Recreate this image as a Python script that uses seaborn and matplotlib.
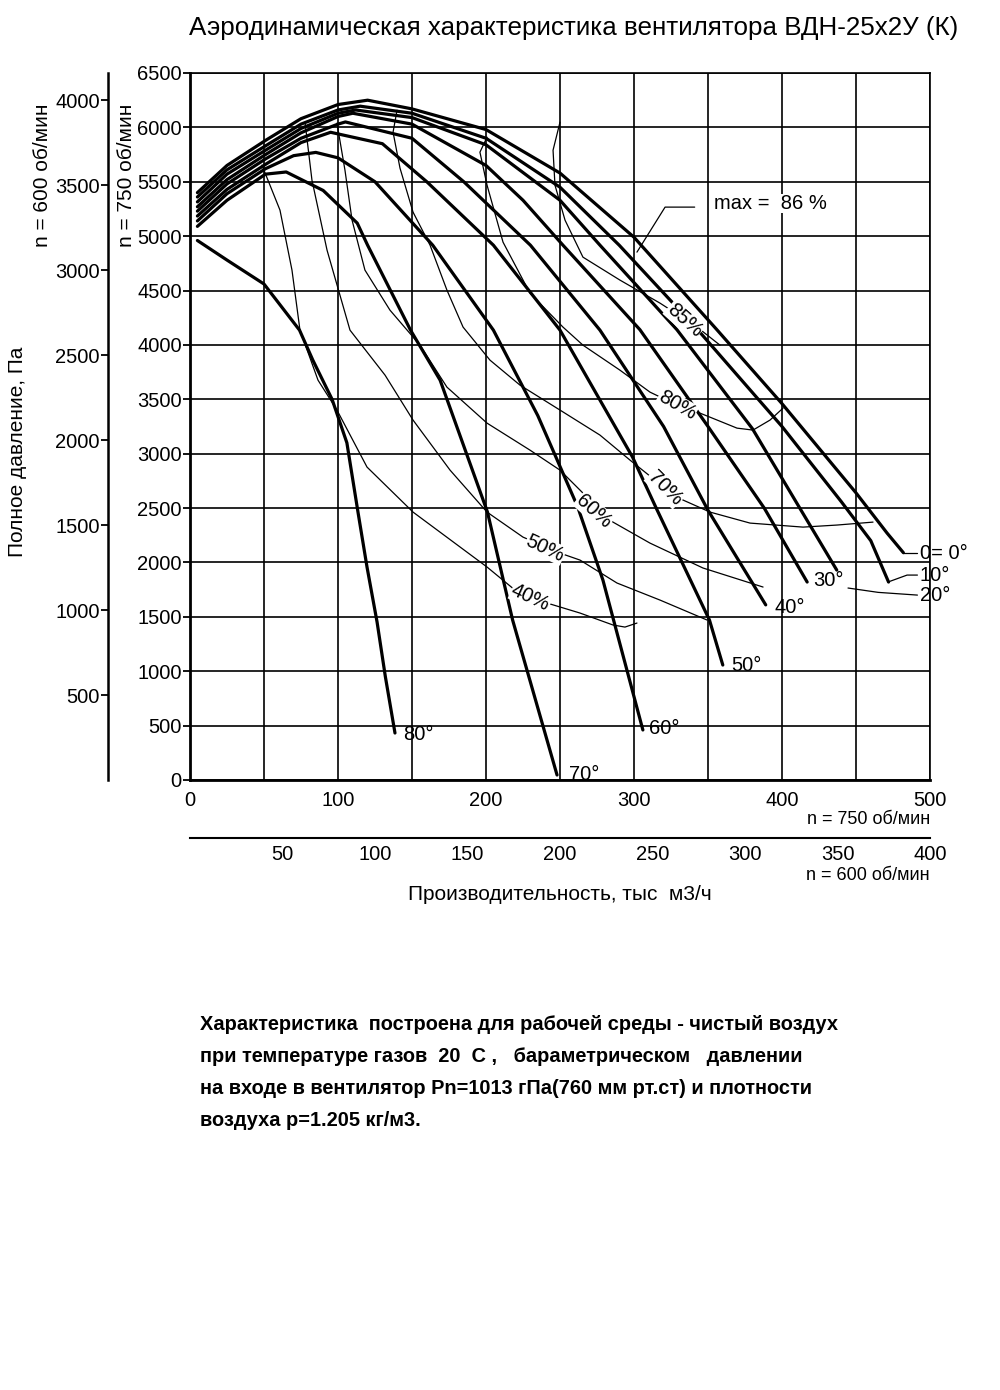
import numpy as np
import pandas as pd
import matplotlib
matplotlib.use('Agg')
import matplotlib.pyplot as plt
import seaborn as sns

# blade angle curves, flow (thous. m3/h) and total pressure (Pa) at n = 750 rpm
q_0 = [5, 25, 51, 75, 100, 120, 150, 200, 250, 300, 356, 400, 450, 471, 482]
p_0 = [5400, 5650, 5880, 6080, 6210, 6250, 6170, 5980, 5580, 4990, 4140, 3460, 2640, 2270, 2090]
q_10 = [5, 25, 51, 75, 100, 115, 150, 200, 250, 290, 343, 400, 440, 460, 472]
p_10 = [5360, 5610, 5830, 6030, 6160, 6195, 6130, 5900, 5450, 4917, 4140, 3250, 2560, 2200, 1820]
q_20 = [5, 25, 51, 75, 100, 112, 150, 200, 250, 277, 329, 380, 412, 437]
p_20 = [5315, 5570, 5790, 5990, 6130, 6160, 6090, 5840, 5330, 4917, 4140, 3230, 2500, 1930]
q_30 = [5, 25, 51, 75, 100, 110, 150, 200, 225, 252, 304, 350, 388, 417]
p_30 = [5270, 5520, 5750, 5950, 6100, 6130, 6030, 5650, 5330, 4917, 4140, 3250, 2500, 1820]
q_40 = [5, 25, 51, 75, 100, 105, 150, 185, 230, 277, 320, 350, 389]
p_40 = [5230, 5480, 5710, 5900, 6030, 6050, 5900, 5500, 4917, 4136, 3250, 2480, 1610]
q_50 = [5, 25, 51, 75, 95, 130, 160, 205, 250, 299, 315, 351, 360]
p_50 = [5185, 5430, 5660, 5860, 5955, 5850, 5500, 4917, 4136, 2969, 2500, 1470, 1057]
q_60 = [5, 25, 51, 70, 85, 100, 125, 164, 205, 235, 262, 279, 306]
p_60 = [5140, 5390, 5620, 5740, 5770, 5720, 5500, 4917, 4136, 3350, 2509, 1838, 460]
q_70 = [5, 25, 51, 65, 90, 113, 120, 149, 169, 201, 218, 248]
p_70 = [5090, 5330, 5570, 5590, 5420, 5120, 4917, 4136, 3676, 2463, 1470, 46]
q_80 = [5, 25, 50, 74, 83, 96, 106, 113.5, 119.6, 126.4, 132, 138.5]
p_80 = [4960, 4780, 4560, 4136, 3860, 3500, 3100, 2463, 1958, 1452, 950, 432]
angles = ['0', '10', '20', '30', '40', '50', '60', '70', '80']

# efficiency contours
q_e40 = [48.6, 60.8, 68.9, 74.3, 86.5, 99.3, 119.6, 150.7, 200.7, 219.6, 241.2, 263.5, 285.8, 293.9, 302]
p_e40 = [5653, 5239, 4688, 4136, 3676, 3401, 2877, 2463, 1958, 1746, 1627, 1535, 1425, 1406, 1443]
q_e50 = [77.7, 82.4, 92.6, 108.1, 131.8, 150.7, 175.7, 200.7, 225, 250, 263.5, 288.5, 317.6, 349.3]
p_e50 = [6048, 5515, 4871, 4136, 3722, 3309, 2849, 2463, 2233, 2086, 2022, 1811, 1654, 1471]
q_e60 = [99.3, 104.7, 109.5, 118.2, 135.1, 155.4, 173.6, 200.7, 229.7, 250, 273.6, 285.8, 310.8, 346.6, 387.2]
p_e60 = [6039, 5607, 5147, 4688, 4320, 3998, 3612, 3281, 3033, 2849, 2528, 2371, 2178, 1949, 1774]
q_e70 = [139.9, 137.2, 141.9, 150.7, 162.2, 173.6, 184.5, 202.7, 223, 250, 277, 297.3, 314.2, 333.1,
         351.4, 378.4, 414.2, 437.2, 461.5]
p_e70 = [6158, 5956, 5625, 5221, 4917, 4504, 4164, 3860, 3630, 3401, 3171, 2941, 2757, 2574,
         2463, 2362, 2325, 2344, 2371]
q_e80 = [200.7, 195.9, 200.7, 211.5, 229.7, 252, 265.5, 290.5, 310.8, 329, 344.6, 369.6, 380.4, 391.9, 400.7]
p_e80 = [5910, 5772, 5469, 4945, 4476, 4164, 3998, 3768, 3566, 3447, 3373, 3235, 3217, 3309, 3419]
q_e85 = [250, 245.3, 246.6, 253.4, 265.5, 290.5, 317.6, 342.6, 358.1]
p_e85 = [6048, 5790, 5469, 5147, 4807, 4596, 4384, 4164, 3998]
efficiencies = ['40', '50', '60', '70', '80', '85']

# scales
x_ticks_750 = [0, 100, 200, 300, 400, 500]
x_ticks_600 = [50, 100, 150, 200, 250, 300, 350, 400]
y_ticks_750 = [0, 500, 1000, 1500, 2000, 2500, 3000, 3500, 4000, 4500, 5000, 5500, 6000, 6500]
y_ticks_600 = [500, 1000, 1500, 2000, 2500, 3000, 3500, 4000]

curves = pd.concat([
    pd.DataFrame({'angle': a, 'Q': q, 'P': p})
    for a, q, p in zip(angles,
                       [q_0, q_10, q_20, q_30, q_40, q_50, q_60, q_70, q_80],
                       [p_0, p_10, p_20, p_30, p_40, p_50, p_60, p_70, p_80])
], ignore_index=True)
eff = pd.concat([
    pd.DataFrame({'eff': e, 'Q': q, 'P': p})
    for e, q, p in zip(efficiencies,
                       [q_e40, q_e50, q_e60, q_e70, q_e80, q_e85],
                       [p_e40, p_e50, p_e60, p_e70, p_e80, p_e85])
], ignore_index=True)

sns.set_theme(style='white')
plt.rcParams['font.family'] = ['Liberation Sans', 'DejaVu Sans']
plt.rcParams['text.color'] = 'black'

H = 1390
fs = 14.5
fig = plt.figure(figsize=(10, 13.9), dpi=100)
ax = fig.add_axes([0.19, 1 - 780 / H, 0.74, (780 - 73) / H])

# grid
ax.set_xlim(0, 500)
ax.set_ylim(0, 6500)
ax.set_xticks(x_ticks_750)
ax.set_xticks(np.arange(0, 501, 50), minor=True)
ax.set_yticks(y_ticks_750)
ax.grid(True, which='both', color='black', lw=1.2)
ax.set_axisbelow(True)
ax.tick_params(axis='x', which='both', length=0, labelsize=fs, pad=8, colors='black')
ax.tick_params(axis='y', direction='out', length=5, width=1.3, labelsize=fs, pad=1,
               colors='black', left=True)
for s in ['top', 'right']:
    ax.spines[s].set_linewidth(1.2)
for s in ['left', 'bottom']:
    ax.spines[s].set_linewidth(2.0)
for s in ax.spines.values():
    s.set_color('black')

sns.lineplot(data=eff, x='Q', y='P', units='eff', estimator=None, sort=False,
             color='black', lw=0.9, ax=ax, legend=False)
sns.lineplot(data=curves, x='Q', y='P', units='angle', estimator=None, sort=False,
             color='black', lw=2.3, ax=ax, legend=False)
ax.set_xlabel('')
ax.set_ylabel('')

# angle labels and leaders
ax.plot([482, 491.5], [2090, 2090], color='black', lw=0.9, clip_on=False)
ax.plot([471.6, 484.5, 491.5], [1820, 1884, 1884], color='black', lw=0.9, clip_on=False)
ax.plot([444.6, 465, 491.5], [1765, 1725, 1700], color='black', lw=0.9, clip_on=False)
ax.text(493, 2085, '0= 0°', fontsize=fs, va='center', ha='left', clip_on=False)
ax.text(493, 1880, '10°', fontsize=fs, va='center', ha='left', clip_on=False)
ax.text(493, 1700, '20°', fontsize=fs, va='center', ha='left', clip_on=False)
ax.text(421, 1830, '30°', fontsize=fs, va='center', ha='left')
ax.text(395, 1590, '40°', fontsize=fs, va='center', ha='left')
ax.text(366, 1057, '50°', fontsize=fs, va='center', ha='left')
ax.text(310, 478, '60°', fontsize=fs, va='center', ha='left')
ax.text(256, 46, '70°', fontsize=fs, va='center', ha='left')
ax.text(144, 414, '80°', fontsize=fs, va='center', ha='left')

# efficiency labels
box = dict(facecolor='white', edgecolor='none', pad=0.3)
ax.text(334, 4228, '85%', fontsize=fs, rotation=-42, ha='center', va='center', bbox=box)
ax.text(329, 3447, '80%', fontsize=fs, rotation=-30, ha='center', va='center', bbox=box)
ax.text(321, 2684, '70%', fontsize=fs, rotation=-45, ha='center', va='center', bbox=box)
ax.text(273, 2472, '60%', fontsize=fs, rotation=-42, ha='center', va='center', bbox=box)
ax.text(240, 2132, '50%', fontsize=fs, rotation=-25, ha='center', va='center', bbox=box)
ax.text(230, 1673, '40%', fontsize=fs, rotation=-25, ha='center', va='center', bbox=box)
ax.plot([302, 321, 341], [4853, 5267, 5267], color='black', lw=0.9)
ax.text(354, 5300, 'max =  86 %', fontsize=fs, va='center', ha='left', bbox=box)

# second flow scale (n = 600 rpm)
axb = fig.add_axes([0.19, 1 - 838 / H, 0.74, 0.0001])
axb.set_xlim(0, 400)
axb.set_yticks([])
axb.set_xticks(x_ticks_600)
axb.tick_params(axis='x', direction='in', length=5, width=1.2, labelsize=fs, pad=5, colors='black')
for s in ['top', 'right', 'left']:
    axb.spines[s].set_visible(False)
axb.spines['bottom'].set_linewidth(1.5)
axb.spines['bottom'].set_color('black')
axb.patch.set_alpha(0)

# second pressure scale (n = 600 rpm)
axl = fig.add_axes([0.108, 1 - 780 / H, 0.0001, (780 - 73) / H])
axl.set_ylim(0, 6500 * 0.64)
axl.set_xticks([])
axl.set_yticks(y_ticks_600)
axl.tick_params(axis='y', direction='out', length=5, width=1.3, labelsize=fs, pad=1,
                colors='black', left=True)
for s in ['top', 'right', 'bottom']:
    axl.spines[s].set_visible(False)
axl.spines['left'].set_linewidth(1.8)
axl.spines['left'].set_color('black')
axl.patch.set_alpha(0)

# texts
fig.text(0.574, 1 - 28 / H, 'Аэродинамическая характеристика вентилятора ВДН-25х2У (К)',
         fontsize=18.7, ha='center', va='center')
fig.text(0.93, 1 - 820 / H, 'n = 750 об/мин', fontsize=13, ha='right', va='center')
fig.text(0.93, 1 - 876 / H, 'n = 600 об/мин', fontsize=13, ha='right', va='center')
fig.text(0.56, 1 - 895 / H, 'Производительность, тыс  м3/ч', fontsize=15, ha='center', va='center')
fig.text(0.018, 1 - 452 / H, 'Полное давление, Па', fontsize=15, rotation=90, ha='center', va='center')
fig.text(0.042, 1 - 175 / H, 'n = 600 об/мин', fontsize=15, rotation=90, ha='center', va='center')
fig.text(0.127, 1 - 175 / H, 'n = 750 об/мин', fontsize=15, rotation=90, ha='center', va='center')

notes = [
    'Характеристика  построена для рабочей среды - чистый воздух',
    'при температуре газов  20  С ,   бараметрическом   давлении',
    'на входе в вентилятор Рn=1013 гПа(760 мм рт.ст) и плотности',
    'воздуха р=1.205 кг/м3.',
]
for i, line in enumerate(notes):
    fig.text(0.2, 1 - (1025 + 32 * i) / H, line, fontsize=14.4, fontweight='bold',
             ha='left', va='center')

fig.savefig('out.png', dpi=100, facecolor='white')
